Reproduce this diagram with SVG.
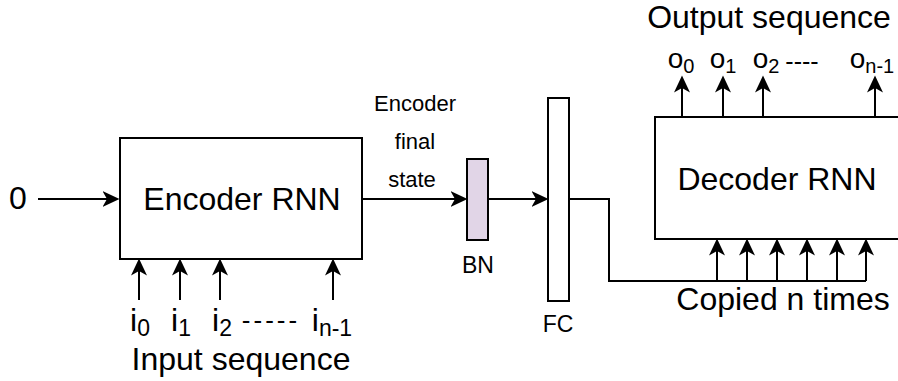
<svg xmlns="http://www.w3.org/2000/svg" width="898" height="381" viewBox="0 0 898 381">
  <defs>
    <style>
      text { font-family: "Liberation Sans", Arial, Helvetica, sans-serif; fill: #000; }
      .big { font-size: 32px; text-anchor: middle; }
      .small { font-size: 22px; text-anchor: middle; }
      .layer { font-size: 23px; text-anchor: middle; }
      .isub { font-size: 23px; }
      .olab { font-size: 28px; text-anchor: middle; }
      .osub { font-size: 20px; }
      .box { fill: #fff; stroke: #000; stroke-width: 2; }
      .bn { fill: #e1d5e7; stroke: #000; stroke-width: 2; }
      .wire { fill: none; stroke: #000; stroke-width: 2; }
      .arrow { fill: none; stroke: #000; stroke-width: 2; marker-end: url(#head); }
    </style>
    <marker id="head" markerUnits="userSpaceOnUse" markerWidth="18" markerHeight="18" viewBox="0 -9 18 18" refX="4.5" refY="0" orient="auto">
      <path d="M17,0 L0,-8 L4.5,0 L0,8 Z" fill="#000"/>
    </marker>
  </defs>

  <g id="encoder">
    <rect class="box" x="120" y="138" width="242" height="121"/>
    <text class="big" x="242" y="210">Encoder RNN</text>
  </g>

  <g id="bn">
    <rect class="bn" x="467" y="159" width="21" height="81"/>
    <text class="layer" x="478" y="273">BN</text>
  </g>

  <g id="fc">
    <rect class="box" x="548" y="98" width="21" height="203"/>
    <text class="layer" x="558" y="332">FC</text>
  </g>

  <g id="decoder">
    <rect class="box" x="655" y="117" width="260" height="122"/>
    <text class="big" x="777" y="190">Decoder RNN</text>
  </g>

  <g id="input-zero">
    <text class="big" x="18" y="209">0</text>
  </g>

  <g id="encoder-state-label">
    <text class="small" x="415" y="111">Encoder</text>
    <text class="small" x="415" y="149">final</text>
    <text class="small" x="412" y="187">state</text>
  </g>

  <g id="inputs">
    <text class="big" x="140" y="331">i<tspan class="isub" dy="5">0</tspan></text>
    <text class="big" x="181" y="331">i<tspan class="isub" dy="5">1</tspan></text>
    <text class="big" x="222" y="331">i<tspan class="isub" dy="5">2</tspan></text>
    <text x="271" y="329" font-size="26" letter-spacing="3" text-anchor="middle">-----</text>
    <text class="big" x="332" y="331">i<tspan class="isub" dy="5">n-1</tspan></text>
    <text class="big" x="241" y="370">Input sequence</text>
  </g>

  <g id="outputs">
    <text class="big" x="769" y="28">Output sequence</text>
    <text class="olab" x="681" y="68">o<tspan class="osub" dy="5">0</tspan></text>
    <text class="olab" x="723" y="68">o<tspan class="osub" dy="5">1</tspan></text>
    <text class="olab" x="766" y="68">o<tspan class="osub" dy="5">2</tspan></text>
    <text x="802" y="70" font-size="25" text-anchor="middle">----</text>
    <text class="olab" x="872" y="68">o<tspan class="osub" dy="5">n-1</tspan></text>
  </g>

  <g id="copied-label">
    <text class="big" x="783" y="310">Copied n times</text>
  </g>

  <g id="connectors">
    <path class="arrow" d="M38,199 H107"/>
    <path class="arrow" d="M362,199 H455"/>
    <path class="arrow" d="M488,199 H536"/>
    <path class="wire" d="M569,199 H609 V281 H866"/>
    <path class="arrow" d="M717,281 V251"/>
    <path class="arrow" d="M747,281 V251"/>
    <path class="arrow" d="M777,281 V251"/>
    <path class="arrow" d="M807,281 V251"/>
    <path class="arrow" d="M837,281 V251"/>
    <path class="arrow" d="M866,281 V251"/>
    <path class="arrow" d="M139,300 V271"/>
    <path class="arrow" d="M180,300 V271"/>
    <path class="arrow" d="M220,300 V271"/>
    <path class="arrow" d="M333,300 V271"/>
    <path class="arrow" d="M682,117 V88"/>
    <path class="arrow" d="M723,117 V88"/>
    <path class="arrow" d="M763,117 V88"/>
    <path class="arrow" d="M875,117 V88"/>
  </g>
</svg>
